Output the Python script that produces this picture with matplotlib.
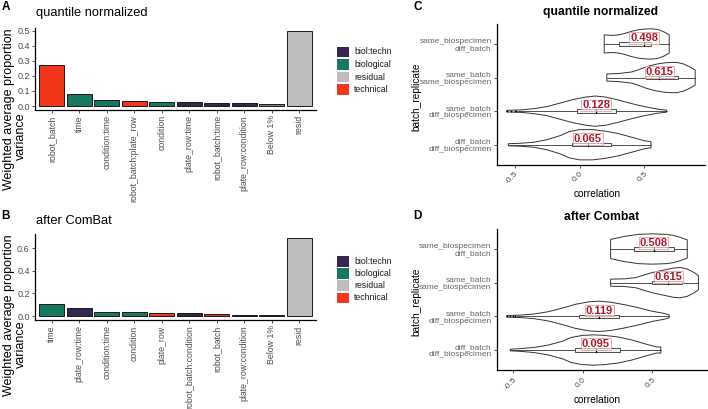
import matplotlib
matplotlib.use('Agg')
import matplotlib.pyplot as plt
from matplotlib.patches import Rectangle, Polygon
import numpy as np

plt.rcParams['font.family'] = ['Liberation Sans', 'DejaVu Sans']

W, H = 708, 409
fig = plt.figure(figsize=(W / 100, H / 100), dpi=100)


def rect(l, t, r, b):
    return [l / W, 1 - b / H, (r - l) / W, (b - t) / H]


def fx(x):
    return x / W


def fy(y):
    return 1 - y / H


# ---------------- data: variance partition ----------------
type_names = ['biol:techn', 'biological', 'residual', 'technical']
type_colors = {'biol:techn': '#35274F', 'biological': '#16785F',
               'residual': '#BEBEBE', 'technical': '#F2361A', None: '#7F7F7F'}

catsA = ['robot_batch', 'time', 'condition:time', 'robot_batch:plate_row', 'condition',
         'plate_row:time', 'robot_batch:time', 'plate_row:condition', 'Below 1%', 'resid']
valsA = [0.272, 0.083, 0.037, 0.031, 0.027, 0.026, 0.022, 0.018, 0.012, 0.495]
typesA = ['technical', 'biological', 'biological', 'technical', 'biological',
          'biol:techn', 'biol:techn', 'biol:techn', None, 'residual']

catsB = ['time', 'plate_row:time', 'condition:time', 'condition', 'plate_row',
         'robot_batch:condition', 'robot_batch', 'plate_row:condition', 'Below 1%', 'resid']
valsB = [0.103, 0.068, 0.038, 0.033, 0.026, 0.023, 0.019, 0.013, 0.013, 0.690]
typesB = ['biological', 'biol:techn', 'biological', 'biological', 'technical',
          'biol:techn', 'technical', 'biol:techn', None, 'residual']

ticksA = [0.0, 0.1, 0.2, 0.3, 0.4, 0.5]
ticksB = [0.0, 0.2, 0.4, 0.6]

# ---------------- data: correlation violins ----------------
groups = ['diff_batch\ndiff_biospecimen', 'same_batch\ndiff_biospecimen',
          'same_batch\nsame_biospecimen', 'same_biospecimen\ndiff_batch']

# violin outlines: correlation grid and relative density
C_x = [
    [-0.548, -0.45, -0.35, -0.25, -0.15, -0.08, 0.0, 0.1, 0.2, 0.3, 0.4, 0.5, 0.55],
    [-0.56, -0.45, -0.35, -0.25, -0.15, -0.05, 0.05, 0.12, 0.2, 0.3, 0.4, 0.5, 0.6, 0.67],
    [0.21, 0.3, 0.4, 0.45, 0.5, 0.55, 0.6, 0.65, 0.7, 0.75, 0.8, 0.85, 0.89],
    [0.19, 0.25, 0.3, 0.35, 0.4, 0.45, 0.5, 0.55, 0.6, 0.65, 0.69],
]
C_d = [
    [1, 1.5, 2.5, 5, 9, 13, 15, 15, 13.5, 11, 7.5, 4, 3],
    [0.8, 1.2, 2.5, 4.5, 8, 11.5, 14, 15, 14, 11, 7.5, 4.5, 2, 1],
    [3.5, 4, 5.5, 7.5, 10, 12, 13.5, 14.5, 15, 15, 13.5, 10.5, 7.5],
    [9, 8.5, 9, 10.5, 12.5, 14, 14.8, 15, 14.5, 12, 9],
]
C_med = [0.065, 0.128, 0.615, 0.498]
C_q1 = [-0.06, -0.018, 0.515, 0.303]
C_q3 = [0.24, 0.28, 0.76, 0.55]
C_lo = [-0.548, -0.47, 0.21, 0.19]
C_hi = [0.55, 0.67, 0.89, 0.69]
C_out = [[], [-0.56, -0.53, -0.5, -0.49], [], []]

D_x = [
    [-0.52, -0.45, -0.35, -0.25, -0.15, -0.08, 0.0, 0.08, 0.15, 0.25, 0.35, 0.45, 0.53, 0.56],
    [-0.545, -0.45, -0.35, -0.25, -0.15, -0.05, 0.05, 0.12, 0.2, 0.3, 0.4, 0.5, 0.58, 0.62],
    [0.2, 0.3, 0.38, 0.45, 0.5, 0.55, 0.6, 0.65, 0.7, 0.75, 0.8, 0.83],
    [0.2, 0.25, 0.3, 0.35, 0.4, 0.5, 0.6, 0.65, 0.7, 0.75],
]
D_d = [
    [0.8, 1.3, 2.5, 4.8, 8.5, 12.5, 14.5, 15, 14.5, 13, 10, 6, 3, 3],
    [0.8, 1.2, 2.3, 4.5, 8, 12, 14.5, 15, 14, 11.5, 8.5, 5, 3, 1.5],
    [3.5, 3.8, 5, 8, 10, 11.5, 13, 14.5, 15, 13.5, 10, 7],
    [9.5, 11, 12.5, 13.5, 14.5, 15, 14.5, 13.5, 11.5, 9],
]
D_med = [0.095, 0.119, 0.615, 0.508]
D_q1 = [-0.055, -0.03, 0.5, 0.37]
D_q3 = [0.27, 0.26, 0.71, 0.655]
D_lo = [-0.52, -0.47, 0.2, 0.2]
D_hi = [0.56, 0.62, 0.83, 0.75]
D_out = [[], [-0.545, -0.52, -0.5, -0.485], [], []]

TICK_GRAY = '#4D4D4D'


def style_axes(ax):
    for s in ['top', 'right']:
        ax.spines[s].set_visible(False)
    for s in ['left', 'bottom']:
        ax.spines[s].set_linewidth(0.9)
        ax.spines[s].set_color('black')
    ax.tick_params(length=2.5, width=0.6, color='#333333', pad=1.5)


def bar_panel(rpx, cats, vals, types, yticks):
    ax = fig.add_axes(rect(*rpx))
    x = np.arange(len(cats))
    ax.bar(x, vals, width=0.9, color=[type_colors[t] for t in types],
           edgecolor='#1a1a1a', linewidth=0.7)
    ax.set_xlim(-0.6, len(cats) - 0.4)
    m = max(vals)
    ax.set_ylim(-0.05 * m, 1.05 * m)
    ax.set_xticks(x)
    ax.set_xticklabels(cats, rotation=90, fontsize=6.3, color=TICK_GRAY, va='top', ha='center')
    ax.set_yticks(yticks)
    ax.set_yticklabels(['%.1f' % t for t in yticks], fontsize=6.5, color=TICK_GRAY)
    style_axes(ax)
    return ax


def legend(centers):
    for name, cy in zip(type_names, centers):
        fig.add_artist(Rectangle((fx(337.3), fy(cy + 5.3)), 12 / W, 10.6 / H,
                                 transform=fig.transFigure, facecolor=type_colors[name],
                                 edgecolor='none'))
        fig.text(fx(354), fy(cy), name, fontsize=6.3, color='#1a1a1a', va='center', ha='left')


def violin_panel(rpx, xs, ds, med, q1, q3, lo, hi, outs):
    ax = fig.add_axes(rect(*rpx))
    dmax = max(max(d) for d in ds)
    for i in range(len(groups)):
        y0 = i + 1
        x = np.array(xs[i])
        w = np.array(ds[i]) / dmax * 0.45
        pts = np.concatenate([np.column_stack([x, y0 + w]),
                              np.column_stack([x[::-1], y0 - w[::-1]])])
        ax.add_patch(Polygon(pts, closed=True, facecolor='white', edgecolor='#333333',
                             linewidth=0.7, zorder=2))
        ax.plot([lo[i], q1[i]], [y0, y0], color='#333333', lw=0.6, zorder=3)
        ax.plot([q3[i], hi[i]], [y0, y0], color='#333333', lw=0.6, zorder=3)
        ax.add_patch(Rectangle((q1[i], y0 - 0.05), q3[i] - q1[i], 0.1, facecolor='#F2F2F2',
                               edgecolor='#333333', linewidth=0.6, zorder=3))
        ax.plot([med[i], med[i]], [y0 - 0.05, y0 + 0.05], color='black', lw=0.9, zorder=4)
        if outs[i]:
            ax.scatter(outs[i], [y0] * len(outs[i]), s=1.5, color='black', zorder=4, linewidths=0)
        ax.text(med[i], y0 + 0.17, '%.3f' % med[i], fontsize=8, fontweight='bold',
                color='#B2182B', ha='center', va='center', zorder=5,
                bbox=dict(boxstyle='square,pad=0.08', facecolor=(1, 1, 1, 0.6),
                          edgecolor='#E8A0A0', linewidth=0.6))
    allx = [v for g in xs for v in g]
    a, b = min(allx), max(allx)
    pad = 0.05 * (b - a)
    ax.set_xlim(a - pad, b + pad)
    ax.set_ylim(0.4, len(groups) + 0.6)
    ax.set_yticks(np.arange(1, len(groups) + 1))
    ax.set_yticklabels(groups, fontsize=6, color='#666666', linespacing=1.05, ha='right')
    for t in ax.get_yticklabels():
        t.set_multialignment('right')
    ax.set_xticks([-0.5, 0.0, 0.5])
    ax.set_xticklabels(['-0.5', '0.0', '0.5'], rotation=45, ha='right',
                       rotation_mode='anchor', fontsize=6, color=TICK_GRAY)
    style_axes(ax)
    return ax


# ---------------- panels ----------------
bar_panel((35.2, 27.7, 315.7, 109.8), catsA, valsA, typesA, ticksA)
bar_panel((35.2, 234.3, 315.7, 319.9), catsB, valsB, typesB, ticksB)
legend([52, 64.7, 77, 89.7])
legend([261.3, 273.5, 285.7, 298])

violin_panel((497.3, 23.8, 704.6, 164.9), C_x, C_d, C_med, C_q1, C_q3, C_lo, C_hi, C_out)
violin_panel((497.2, 228.8, 708, 370.2), D_x, D_d, D_med, D_q1, D_q3, D_lo, D_hi, D_out)

# titles
fig.text(fx(36), fy(13), 'quantile normalized', fontsize=9.3, ha='left', va='center')
fig.text(fx(36), fy(221.5), 'after ComBat', fontsize=9.3, ha='left', va='center')
fig.text(fx(601), fy(12.3), 'quantile normalized', fontsize=8.7, fontweight='bold',
         ha='center', va='center')
fig.text(fx(602), fy(216.7), 'after Combat', fontsize=8.7, fontweight='bold',
         ha='center', va='center')

# panel letters
for lab, x, y in [('A', 6, 7.5), ('B', 6, 216), ('C', 417.5, 7.5), ('D', 417.5, 216)]:
    fig.text(fx(x), fy(y), lab, fontsize=8.5, fontweight='bold', ha='center', va='center')

# axis titles
for yc1, yc2 in [(109, 136), (315, 344)]:
    fig.text(fx(9.5), fy(yc1), 'Weighted average proportion', rotation=90, fontsize=9,
             ha='center', va='center')
    fig.text(fx(21), fy(yc2), 'variance', rotation=90, fontsize=9, ha='center', va='center')

fig.text(fx(416.7), fy(97), 'batch_replicate', rotation=90, fontsize=7.3, ha='center', va='center')
fig.text(fx(416.7), fy(302), 'batch_replicate', rotation=90, fontsize=7.3, ha='center', va='center')
fig.text(fx(597), fy(194), 'correlation', fontsize=7.3, ha='center', va='center')
fig.text(fx(597), fy(400), 'correlation', fontsize=7.3, ha='center', va='center')

fig.savefig('out.png', dpi=100)
